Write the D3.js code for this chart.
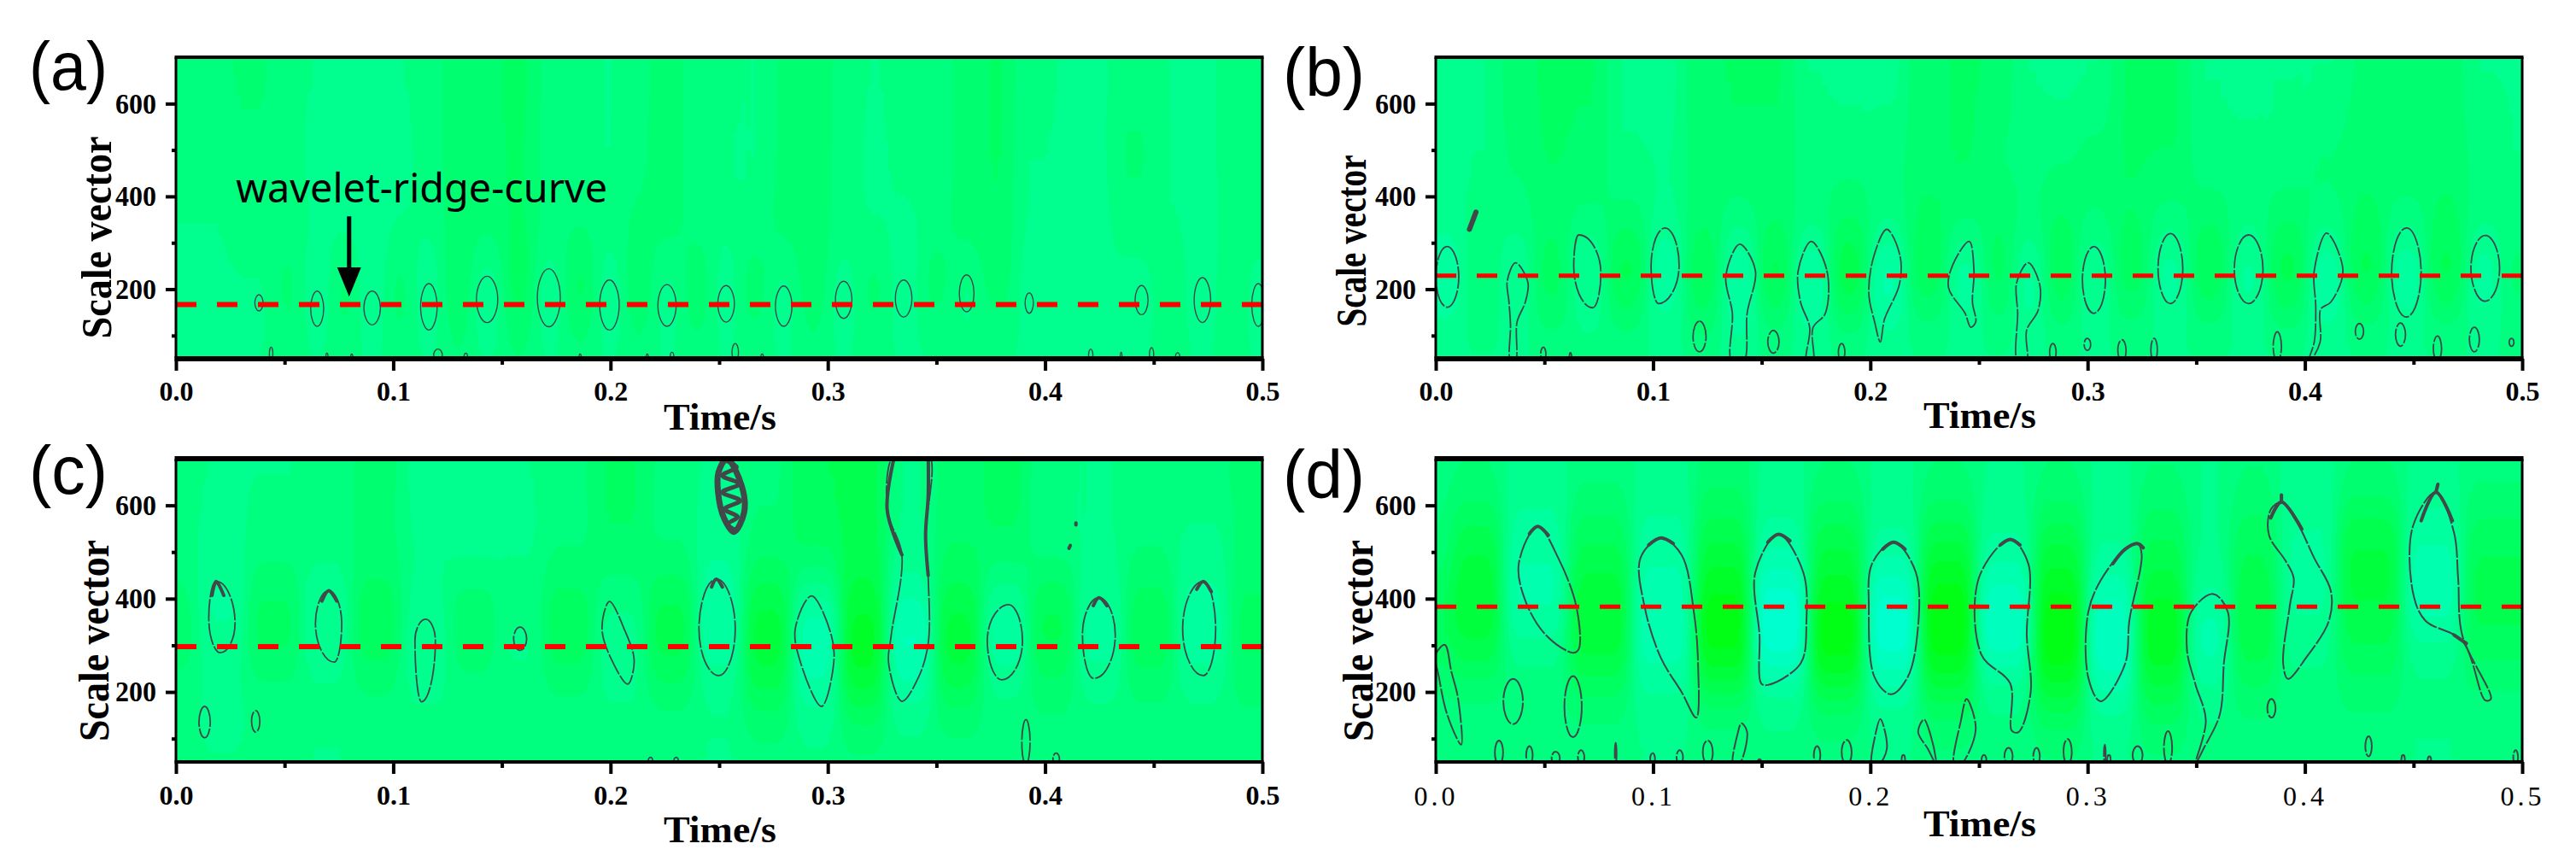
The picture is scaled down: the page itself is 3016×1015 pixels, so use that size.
<!DOCTYPE html>
<html><head><meta charset="utf-8">
<script src="https://cdn.jsdelivr.net/npm/d3@7/dist/d3.min.js"></script>
<style>html,body{margin:0;padding:0;background:#fff}svg{display:block}</style>
</head><body><svg id="c" width="3016" height="1015"></svg>
<script>
// ---------- shared axis values ----------
const timeTicks = [0, 0.1, 0.2, 0.3, 0.4, 0.5];
const timeMinor = [0.05, 0.15, 0.25, 0.35, 0.45];
const scaleTicks = [200, 400, 600];
const scaleMinor = [100, 300, 500];
const scaleDomain = [50, 700];
const timeDomain = [0, 0.5];

// ---------- wavelet ridge levels ----------
const ridgeA = 167, ridgeB = 229, ridgeC = 297, ridgeD = 383;

// ---------- simple contour lobes: [time, top scale, bottom scale, half width in time] ----------
const lobesA = [[.0382,188,153,.0019],[.065,196,120,.003],[.0903,196,123,.0038],[.1164,212,112,.0038],[.1432,228,128,.0049],[.1716,244,119,.0053],[.1995,220,112,.0045],[.226,210,120,.0042],[.2532,208,129,.0038],[.2797,207,120,.0038],[.3073,217,137,.0038],[.3349,220,140,.0038],[.3639,231,151,.0034],[.3927,192,148,.0019],[.4444,208,145,.003],[.4724,225,128,.0038],[.4981,212,120,.003],
 [.0438,75,45,.0008],[.0695,62,45,.0005],[.0809,60,45,.0005],[.1206,71,45,.002],[.1334,62,45,.0008],[.186,60,45,.0005],[.2169,60,45,.0005],[.2283,64,45,.0008],[.2574,83,45,.0015],[.2698,60,45,.0006],[.421,71,45,.001],[.435,64,45,.0004],[.449,74,45,.001],[.461,63,45,.001]];
const lobesB = [[.0053,292,161,.0053],[.3029,292,148,.0053],[.3381,320,169,.0057],[.3741,317,169,.0066],[.4467,332,140,.0068],[.483,316,174,.0066],
 [.1214,131,65,.003],[.1554,111,62,.0026],[.0495,75,45,.0012],[.062,63,45,.0005],[.1868,83,45,.0015],[.284,83,45,.0015],[.2999,94,68,.0015],[.3158,91,45,.0019],[.3306,94,45,.0015],[.3873,108,45,.0019],[.4251,126,92,.0019],[.444,127,77,.0023],[.461,99,45,.0019],[.478,118,65,.0023],[.4951,94,77,.0011]];
const lobesC = [[.1584,339,289,.003],[.0132,169,102,.0026],[.0367,160,114,.0019],[.3912,141,45,.0019],[.4051,69,45,.0015],[.2184,60,45,.001],[.2302,60,45,.001]];
const lobesD = [[.0356,228,131,.0045],[.0632,234,103,.004],[.3846,185,145,.0019],[.4293,105,62,.0015],
 [.0291,96,45,.0019],[.0431,84,45,.0015],[.0552,72,45,.0019],[.0669,75,45,.0015],[.0828,91,45,.0004],[.0998,69,45,.0011],[.1123,75,45,.0015],[.1252,96,45,.0023],[.1755,84,45,.0015],[.1891,97,45,.0023],[.2523,65,45,.0011],[.2636,80,45,.0019],[.2765,80,45,.0015],[.2908,99,45,.0019],[.3079,87,45,.0004],[.323,84,45,.0023],[.337,116,45,.0019],[.4452,65,45,.0008],[.4573,62,45,.0008],[.497,75,45,.0011],[.149,56,45,.0008],[.2152,65,45,.0008],[.3098,65,45,.0008]];

// ---------- irregular contour outlines: [time, scale]; four-point ones are top, right, bottom, left ----------
const outlinesA = [];
const outlinesB = [
 [[.0367,257],[.0424,215],[.0412,172],[.0374,129],[.0367,45],[.0344,45],[.0344,123],[.0337,172],[.0329,218]],
 [[.0658,317],[.076,234],[.0722,160],[.0635,250]],
 [[.1055,332],[.112,252],[.1025,169],[.0991,250]],
 [[.1399,297],[.1471,240],[.1433,148],[.1418,45],[.1362,45],[.1365,148],[.1335,228]],
 [[.1728,303],[.18,240],[.1793,148],[.1736,117],[.1736,45],[.1706,45],[.1721,117],[.1679,172],[.1668,240]],
 [[.2076,329],[.2137,271],[.2133,209],[.2065,135],[.2046,86],[.202,129],[.1993,191],[.2016,271]],
 [[.2455,303],[.2477,240],[.247,172],[.2485,129],[.2462,118],[.2436,148],[.236,203],[.2379,252]],
 [[.2727,257],[.278,209],[.2772,154],[.2719,111],[.2719,45],[.2678,45],[.2678,148],[.2674,215]],
 [[.41,321],[.4175,240],[.4119,172],[.4073,157],[.407,86],[.4024,45],[.4017,45],[.4043,86],[.405,160],[.4043,240]]
];
const outlinesC = [
 [[.0185,437],[.0272,347],[.0204,284],[.0151,359]],
 [[.0703,417],[.0763,347],[.0729,264],[.0642,347]],
 [[.1149,356],[.1194,310],[.113,179],[.11,310]],
 [[.1995,394],[.2063,335],[.2109,267],[.2079,217],[.2007,267],[.1961,335]],
 [[.2487,442],[.2574,335],[.2498,235],[.2407,335]],
 [[.2925,406],[.3016,322],[.3027,261],[.2971,169],[.2876,261],[.285,335]],
 [[.3311,714],[.3273,591],[.3341,494],[.3292,322],[.328,261],[.3341,180],[.3416,230],[.3462,304],[.3462,445],[.345,536],[.3462,714]],
 [[.3832,387],[.3896,310],[.3801,226],[.3734,310]],
 [[.4248,402],[.4323,322],[.4225,229],[.4172,322]],
 [[.4728,437],[.4785,335],[.4728,235],[.4633,335]]
];
const outlinesD = [
 [[0,280],[.0042,301],[.0072,243],[.0102,188],[.0117,87],[.0053,151],[.0015,231]],
 [[.0469,555],[.0564,487],[.0647,383],[.0658,292],[.0632,284],[.0507,322],[.0412,396],[.0382,475]],
 [[.1036,530],[.1131,494],[.1188,371],[.1207,261],[.1199,145],[.1131,200],[.1036,273],[.0961,383],[.0942,487]],
 [[.1577,538],[.1691,457],[.1706,353],[.1679,261],[.1528,215],[.1498,218],[.149,322],[.1471,457]],
 [[.2107,521],[.2209,457],[.2216,322],[.2171,231],[.2095,195],[.202,231],[.1993,383],[.2008,475]],
 [[.2644,527],[.2727,475],[.272,322],[.2738,200],[.2682,114],[.2651,117],[.2644,218],[.2511,280],[.25,445]],
 [[.323,518],[.3249,494],[.3192,353],[.3173,261],[.306,180],[.3003,231],[.3003,371],[.306,439],[.3173,506]],
 [[.3578,410],[.3646,371],[.3627,261],[.3608,151],[.3533,78],[.3495,45],[.3544,139],[.3495,218],[.3457,292],[.3476,371]],
 [[.3892,607],[.396,567],[.4043,487],[.4119,417],[.4111,353],[.4005,273],[.3922,228],[.39,261],[.393,383],[.3948,445],[.3911,481],[.3835,536],[.3843,591]],
 [[.4603,628],[.4686,542],[.4705,445],[.4724,322],[.4856,185],[.483,182],[.4724,310],[.4554,353],[.4497,414],[.4497,555]],
 [[.2443,185],[.2485,120],[.2417,45],[.2386,45],[.2417,139]],
 [[.2046,142],[.2076,78],[.2039,45],[.2008,45],[.2023,108]],
 [[.2247,141],[.2277,108],[.2303,45],[.2265,78],[.222,114]],
 [[.1407,133],[.1433,114],[.1396,45],[.1369,45],[.1388,108]]
];

// ---------- heavier (noisy) pieces of contour: [time, scale] open runs ----------
const heavyA = [];
const heavyB = [[[.0185,366],[.0155,329]]];
const heavyC = [
 [[.0166,407],[.0185,437],[.022,407]],[[.0672,395],[.0703,417],[.074,395]],[[.2465,425],[.2487,442],[.2515,425]],
 [[.4222,385],[.4248,402],[.4285,385]],[[.4698,420],[.4728,437],[.4765,415]],
 [[.3311,714],[.3273,591],[.3341,494]],[[.3462,714],[.3462,620],[.345,536],[.3462,450]],
 [[.4142,562],[.4142,558]],[[.4116,514],[.4110,508]]
];
const heavyD = [
 [[.0431,539],[.0469,555],[.0518,536]],[[.098,515],[.1036,530],[.1093,518]],[[.1528,521],[.1577,538],[.163,524]],
 [[.2057,506],[.2107,521],[.216,506]],[[.2598,515],[.2644,527],[.2689,515]],[[.3116,475],[.3173,506],[.323,518],[.3256,509]],
 [[.3843,573],[.3892,607],[.3986,549]],[[.3892,607],[.3892,622]],[[.4535,567],[.4603,628],[.4679,567]],[[.4603,628],[.4612,645]],
 [[.4686,322],[.4743,304]]
];
// dense scribble of contour in panel c near time 0.255
const scribbleC = [[.2536,700],[.2605,640],[.2615,585],[.2568,543],[.2522,573],[.2495,628],[.2497,671]];
const scribbleC2 = [[.2510,700],[.2580,682],[.2515,664],[.2592,646],[.2515,628],[.2596,610],[.2525,592],[.2585,575],[.2540,560],[.2570,548]];

// ---------- background coefficient grids: rows top to bottom, columns left to right ----------
const rowsA = [650,480,320,200,90];
const colsA = [.012,.038,.052,.065,.078,.09,.103,.116,.13,.143,.158,.172,.186,.2,.213,.226,.24,.253,.266,.28,.293,.307,.321,.335,.35,.364,.378,.393,.418,.444,.458,.472,.486,.498];
const gridA = [
 [45,42,48,50,54,55,50,48,38,38,35,45,48,50,45,40,46,48,50,42,38,45,50,48,48,40,36,48,52,45,50,52,48,46],
 [48,45,48,52,56,58,52,48,38,38,36,46,48,50,44,40,46,50,50,42,38,46,52,48,48,40,36,50,52,42,50,52,48,46],
 [50,46,46,50,52,54,50,48,40,40,36,44,44,46,42,40,46,48,48,40,38,46,50,52,46,40,38,50,54,46,50,54,48,46],
 [52,52,40,58,38,58,38,58,34,60,30,58,30,58,34,56,36,56,36,56,36,56,38,56,38,54,38,54,50,56,40,60,40,56],
 [54,50,46,50,46,52,46,50,44,50,44,50,46,50,46,50,46,50,48,50,46,50,48,50,50,48,50,50,50,50,48,50,48,50]
];
const rowsB = [650,480,340,230,130,60];
const colsB = [.005,.021,.037,.053,.07,.088,.106,.123,.14,.156,.173,.19,.208,.226,.245,.259,.273,.288,.303,.32,.338,.356,.374,.392,.41,.428,.447,.465,.483,.497];
const gridB = [
 [50,50,40,35,36,50,52,38,36,36,50,52,52,38,36,38,50,52,50,36,36,50,52,50,50,42,40,40,50,50],
 [52,50,42,36,38,50,50,40,38,38,46,46,46,38,36,44,46,44,40,36,36,48,48,48,42,38,38,38,46,50],
 [52,48,46,40,44,40,50,40,46,40,44,38,46,36,40,38,42,36,42,38,46,38,46,38,44,36,46,36,46,48],
 [70,40,62,30,66,20,72,25,72,20,74,16,76,26,70,30,66,25,66,28,68,24,66,20,72,22,72,22,70,38],
 [55,46,52,40,46,44,50,40,60,44,58,42,58,46,52,46,56,44,50,46,50,46,50,44,56,46,50,46,50,48],
 [50,52,50,52,50,50,52,50,52,50,50,52,50,52,50,52,50,52,50,52,50,52,50,52,50,52,50,52,50,50]
];
const rowsC = [650,520,400,320,230,140,70];
const colsC = [0,.02,.045,.07,.092,.115,.137,.158,.18,.205,.228,.25,.272,.295,.316,.338,.36,.382,.403,.425,.448,.472,.497];
const gridC = [
 [48,50,50,48,40,52,54,50,44,36,44,52,44,30,28,50,40,34,48,50,44,46,40],
 [48,52,48,46,42,50,56,52,46,36,46,56,42,32,28,50,38,36,50,50,46,52,42],
 [42,60,36,56,34,50,40,46,34,48,30,60,26,56,22,62,28,54,30,54,34,58,36],
 [36,58,30,62,26,58,34,54,28,56,22,74,14,80,8,82,14,74,24,70,26,70,32],
 [46,48,44,46,44,52,46,48,40,52,34,48,24,66,15,68,24,50,38,50,40,50,40],
 [50,56,52,50,46,48,50,48,50,48,50,50,42,52,38,48,44,46,46,48,48,48,46],
 [46,48,46,50,46,48,46,48,46,48,46,50,46,48,46,48,46,48,46,48,46,48,46]
];
const rowsD = [650,540,430,340,250,160,70];
const colsD = [0,.015,.047,.075,.105,.133,.158,.185,.21,.235,.262,.288,.31,.335,.357,.375,.4,.43,.46,.485];
const gridD = [
 [46,44,54,46,52,40,52,44,52,44,50,44,52,44,50,44,54,44,52,46],
 [44,26,60,32,60,26,58,26,56,26,56,26,54,30,50,32,58,22,62,32],
 [34,18,70,20,68,12,78,16,74,8,70,12,66,22,52,26,60,20,76,26],
 [28,16,64,14,74,0,100,0,98,0,94,0,86,6,74,20,58,26,64,28],
 [38,32,46,24,66,12,72,8,72,10,60,6,78,14,66,30,48,34,46,38],
 [48,50,44,46,50,44,46,42,52,38,46,32,54,34,46,46,46,46,50,50],
 [50,46,50,46,50,48,50,46,50,46,50,46,50,46,50,46,50,46,50,46]
];

// ---------- annotation ----------
const annotationText = "wavelet-ridge-curve";
const annotationTime = 0.0276, annotationScale = 387;
const arrowTime = 0.0797, arrowTail = 357, arrowBase = 247, arrowTip = 184, arrowHalf = 0.0055;

// ---------- layout of the four panels (table built from the arrays above) ----------
const panels = [
 {key:'a',lab:'(a)',lx:34,ly:105,labLen:92,xl:'Time/s',l:206,r:1478,t:67,b:420,topW:4,botW:6,xlY:503,ylX:130,ylC:278,ylLen:237,ridge:ridgeA,ridgeW:6,sw:1.4,dash:'none',lobes:lobesA,outlines:outlinesA,heavy:heavyA,rows:rowsA,cols:colsA,grid:gridA,tickY:469},
 {key:'b',lab:'(b)',lx:1502,ly:112,labLen:96,xl:'Time/s',l:1681,r:2953,t:67,b:420,topW:4,botW:6,xlY:501,ylX:1599,ylC:282,ylLen:201,ridge:ridgeB,ridgeW:5,sw:1.8,dash:'26 2',lobes:lobesB,outlines:outlinesB,heavy:heavyB,rows:rowsB,cols:colsB,grid:gridB,tickY:469},
 {key:'c',lab:'(c)',lx:34,ly:578,labLen:92,xl:'Time/s',l:206,r:1478,t:537,b:892,topW:6,botW:4,xlY:986,ylX:127,ylC:750,ylLen:236,ridge:ridgeC,ridgeW:6,sw:1.8,dash:'26 2',lobes:lobesC,outlines:outlinesC,heavy:heavyC,rows:rowsC,cols:colsC,grid:gridC,tickY:942},
 {key:'d',lab:'(d)',lx:1502,ly:583,labLen:96,xl:'Time/s',l:1681,r:2953,t:537,b:892,topW:6,botW:4,xlY:979,ylX:1607,ylC:750,ylLen:236,ridge:ridgeD,ridgeW:5,sw:2,dash:'30 2',lobes:lobesD,outlines:outlinesD,heavy:heavyD,rows:rowsD,cols:colsD,grid:gridD,tickY:943,wide:true}
];

const svg = d3.select('#c');
const SERIF = '"Liberation Serif","Times New Roman",serif';
const SANS = '"Liberation Sans",Arial,sans-serif';
const colour = d3.scaleLinear().domain([0,50,100]).range(['#00ff08','#00ff80','#00ffe8']);
const defs = svg.append('defs');
const blur = defs.append('filter').attr('id','soft').attr('filterUnits','userSpaceOnUse')
  .attr('x',0).attr('y',0).attr('width',3016).attr('height',1015).attr('color-interpolation-filters','sRGB');
blur.append('feGaussianBlur').attr('stdDeviation','9 36');
blur.append('feComponentTransfer').append('feFuncB').attr('type','discrete')
  .attr('tableValues','0 .08 .16 .24 .31 .38 .44 .5 .56 .62 .69 .75 .81 .87 .9 .9');

panels.forEach(p => {
  const x = d3.scaleLinear().domain(timeDomain).range([p.l,p.r]);
  const y = d3.scaleLinear().domain(scaleDomain).range([p.b,p.t]);
  const g = svg.append('g');
  defs.append('clipPath').attr('id','clip'+p.key).append('rect')
    .attr('x',p.l).attr('y',p.t).attr('width',p.r-p.l).attr('height',p.b-p.t);

  // background heat cells
  const clip = g.append('g').attr('clip-path',`url(#clip${p.key})`);
  clip.append('rect').attr('x',p.l).attr('y',p.t).attr('width',p.r-p.l).attr('height',p.b-p.t).attr('fill',colour(48));
  const heat = clip.append('g').attr('filter','url(#soft)');
  const edge = (arr,lo,hi) => arr.map((d,i) => [
    i===0 ? lo : (arr[i-1]+d)/2,
    i===arr.length-1 ? hi : (d+arr[i+1])/2 ]);
  const colE = edge(p.cols,-0.08,0.58), rowE = edge(p.rows,900,-200);
  p.grid.forEach((row,ri) => row.forEach((val,ci) => {
    heat.append('rect')
      .attr('x',x(colE[ci][0])).attr('width',x(colE[ci][1])-x(colE[ci][0])+0.5)
      .attr('y',y(rowE[ri][0])).attr('height',y(rowE[ri][1])-y(rowE[ri][0])+0.5)
      .attr('fill',colour(val));
  }));

  // contours
  const closed = d3.line().x(d=>x(d[0])).y(d=>y(d[1])).curve(d3.curveCatmullRomClosed.alpha(0.5));
  const open = d3.line().x(d=>x(d[0])).y(d=>y(d[1])).curve(d3.curveCatmullRom.alpha(0.5));
  const egg = pts => {            // top, right, bottom, left joined by quarter-ellipse curves
    const P = pts.map(d=>[x(d[0]),y(d[1])]), k = 0.52, path = d3.path();
    path.moveTo(P[0][0],P[0][1]);
    for(let i=0;i<4;i++){
      const a=P[i], b=P[(i+1)%4];
      if(i%2===0) path.bezierCurveTo(a[0]+k*(b[0]-a[0]),a[1],b[0],b[1]-k*(b[1]-a[1]),b[0],b[1]);
      else path.bezierCurveTo(a[0],a[1]+k*(b[1]-a[1]),b[0]-k*(b[0]-a[0]),b[1],b[0],b[1]);
    }
    path.closePath();
    return path.toString();
  };
  const stroke = '#42474a';
  const contour = d => clip.append('path').attr('d',d).attr('fill','none').attr('stroke',stroke)
    .attr('stroke-width',p.sw).attr('stroke-dasharray',p.dash);
  p.lobes.forEach(([t,top,bot,hw]) => {
    const mid=(top+bot)/2;
    contour(egg([[t,top],[t+hw,mid],[t,bot],[t-hw,mid]]));
  });
  p.outlines.forEach(o => contour(o.length===4 ? egg(o) : closed(o)));
  p.heavy.forEach(o => clip.append('path').attr('d',open(o)).attr('fill','none').attr('stroke',stroke).attr('stroke-width',p.key==='b'?6:4).attr('stroke-linecap','round'));
  if(p.key==='c'){
    clip.append('path').attr('d',closed(scribbleC)).attr('fill','none').attr('stroke',stroke).attr('stroke-width',7);
    clip.append('path').attr('d',open(scribbleC2)).attr('fill','none').attr('stroke',stroke).attr('stroke-width',5);
  }

  // ridge line
  g.append('line').attr('x1',x(0)).attr('x2',x(0.5015)).attr('y1',y(p.ridge)).attr('y2',y(p.ridge))
    .attr('stroke','#ff0000').attr('stroke-width',p.ridgeW).attr('stroke-dasharray','24 24');

  // axes
  const styleAxis = a => { a.select('.domain').remove(); a.selectAll('.tick line').attr('stroke','#000').attr('stroke-width',4); };
  const xa = g.append('g').attr('transform',`translate(0,${p.b})`)
    .call(d3.axisBottom(x).tickValues(timeTicks).tickSize(14).tickFormat(d3.format('.1f')));
  styleAxis(xa);
  xa.selectAll('text').attr('y',p.tickY-p.b).attr('dy',0)
    .attr('font-family',SERIF).attr('font-size',32).attr('font-weight',p.wide?400:700).attr('fill','#000')
    .attr('letter-spacing',p.wide?4:0);
  const xm = g.append('g').attr('transform',`translate(0,${p.b})`)
    .call(d3.axisBottom(x).tickValues(timeMinor).tickSize(7).tickFormat(''));
  styleAxis(xm);
  const ya = g.append('g').attr('transform',`translate(${p.l},0)`)
    .call(d3.axisLeft(y).tickValues(scaleTicks).tickSize(12).tickPadding(11));
  styleAxis(ya);
  ya.selectAll('text').attr('font-family',SERIF).attr('font-size',34).attr('font-weight',700).attr('fill','#000')
    .attr('textLength',48).attr('lengthAdjust','spacingAndGlyphs');
  const ym = g.append('g').attr('transform',`translate(${p.l},0)`)
    .call(d3.axisLeft(y).tickValues(scaleMinor).tickSize(5).tickFormat(''));
  styleAxis(ym);

  // frame
  g.append('line').attr('x1',p.l).attr('x2',p.l).attr('y1',p.t).attr('y2',p.b).attr('stroke','#000').attr('stroke-width',3);
  g.append('line').attr('x1',p.r).attr('x2',p.r).attr('y1',p.t).attr('y2',p.b).attr('stroke','#000').attr('stroke-width',3);
  g.append('line').attr('x1',p.l-1.5).attr('x2',p.r+1.5).attr('y1',p.t).attr('y2',p.t).attr('stroke','#000').attr('stroke-width',p.topW);
  g.append('line').attr('x1',p.l-1.5).attr('x2',p.r+1.5).attr('y1',p.b).attr('y2',p.b).attr('stroke','#000').attr('stroke-width',p.botW);

  // titles
  g.append('text').attr('x',(p.l+p.r)/2+1).attr('y',p.xlY).attr('text-anchor','middle')
    .attr('font-family',SERIF).attr('font-size',45).attr('font-weight',700)
    .attr('textLength',132).attr('lengthAdjust','spacingAndGlyphs').text(p.xl);
  g.append('text').attr('transform',`translate(${p.ylX},${p.ylC}) rotate(-90)`).attr('text-anchor','middle')
    .attr('font-family',SERIF).attr('font-size',50).attr('font-weight',700)
    .attr('textLength',p.ylLen).attr('lengthAdjust','spacingAndGlyphs').text('Scale vector');
  g.append('text').attr('x',p.lx).attr('y',p.ly).attr('font-family',SANS).attr('font-size',80)
    .attr('textLength',p.labLen).attr('lengthAdjust','spacingAndGlyphs').text(p.lab);

  // annotation in panel a
  if(p.key==='a'){
    g.append('text').attr('x',x(annotationTime)).attr('y',y(annotationScale))
      .attr('font-family',"'Noto Sans',sans-serif").attr('font-size',48)
      .attr('textLength',435).attr('lengthAdjust','spacingAndGlyphs').text(annotationText);
    g.append('line').attr('x1',x(arrowTime)).attr('x2',x(arrowTime)).attr('y1',y(arrowTail)).attr('y2',y(arrowBase))
      .attr('stroke','#000').attr('stroke-width',5);
    g.append('path').attr('fill','#000').attr('d',d3.line()([
      [x(arrowTime-arrowHalf),y(arrowBase)],[x(arrowTime+arrowHalf),y(arrowBase)],[x(arrowTime),y(arrowTip)]])+'Z');
  }
});
</script></body></html>
